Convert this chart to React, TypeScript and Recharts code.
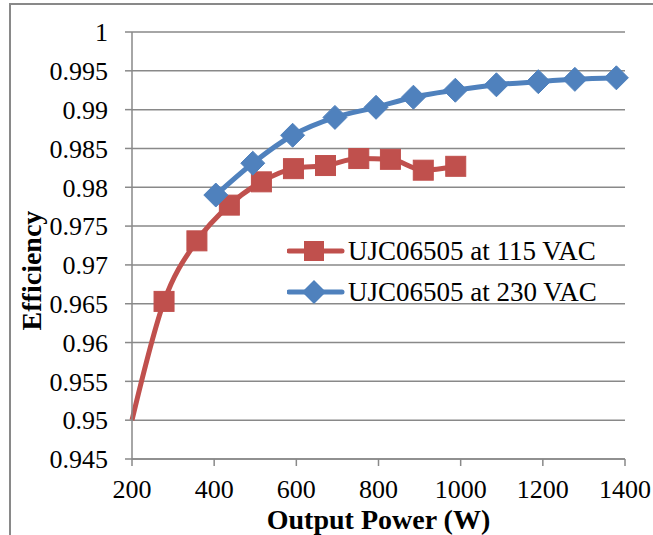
import { LineChart, Line, XAxis, YAxis, CartesianGrid, Legend, Label } from 'recharts'

const power115 = [200, 278, 358, 437, 515, 593, 671, 752, 829, 909, 988]
const eff115 = [0.95, 0.9653, 0.9731, 0.9777, 0.9807, 0.9824, 0.9828, 0.9837, 0.9836, 0.9822, 0.9827]
const power230 = [404, 494, 591, 694, 794, 885, 987, 1087, 1189, 1278, 1379]
const eff230 = [0.979, 0.9831, 0.9867, 0.989, 0.9903, 0.9916, 0.9925, 0.9932, 0.9936, 0.9939, 0.9941]

const xTicks = [200, 400, 600, 800, 1000, 1200, 1400]
const yTicks = [0.945, 0.95, 0.955, 0.96, 0.965, 0.97, 0.975, 0.98, 0.985, 0.99, 0.995, 1]

const RED = '#C0504D'
const BLUE = '#4F81BD'
const GRID = '#898989'
const FONT = '"Liberation Serif", "Times New Roman", serif'

const data115 = power115.map((p, i) => ({ p, e: eff115[i] }))
const data230 = power230.map((p, i) => ({ p, e: eff230[i] }))

const fmtY = (v: number) => String(Number(v.toFixed(3)))

const SquareDot = (props: any) => {
  const { cx, cy, index } = props
  // first point sits on the axis in the original without a marker
  if (index === 0 || cx == null) return <g key={`s${index}`} />
  return <rect key={`s${index}`} x={cx - 10} y={cy - 10} width={20} height={20} fill={RED} stroke={RED} />
}

const DiamondDot = (props: any) => {
  const { cx, cy, index } = props
  if (cx == null) return <g key={`d${index}`} />
  const r = 12
  return (
    <polygon
      key={`d${index}`}
      points={`${cx},${cy - r} ${cx + r},${cy} ${cx},${cy + r} ${cx - r},${cy}`}
      fill={BLUE}
      stroke={BLUE}
    />
  )
}

const legendRows = [
  { name: 'UJC06505 at 115 VAC', color: RED, shape: 'square' },
  { name: 'UJC06505 at 230 VAC', color: BLUE, shape: 'diamond' },
]

function LegendBox() {
  return (
    <div style={{ fontFamily: FONT, fontSize: 27, color: '#000' }}>
      {legendRows.map((r) => (
        <div key={r.name} style={{ display: 'flex', alignItems: 'center', height: 41 }}>
          <svg width={61} height={30} style={{ display: 'block' }}>
            <line x1={2} y1={15} x2={55} y2={15} stroke={r.color} strokeWidth={5} strokeLinecap="round" />
            {r.shape === 'square' ? (
              <rect x={17} y={5} width={20} height={20} fill={r.color} />
            ) : (
              <polygon points="27,3 39,15 27,27 15,15" fill={r.color} />
            )}
          </svg>
          <span style={{ whiteSpace: 'nowrap', lineHeight: '30px' }}>{r.name}</span>
        </div>
      ))}
    </div>
  )
}

export default function App() {
  return (
    <div style={{ position: 'absolute', left: 0, top: 0, width: 653, height: 535, overflow: 'hidden', background: '#fff' }}>
      <div
        style={{
          position: 'absolute',
          left: 9,
          top: 3,
          width: 680,
          height: 580,
          border: `2px solid ${GRID}`,
        }}
      />
      <div style={{ position: 'absolute', left: 0, top: 0 }}>
        <LineChart width={653} height={535} margin={{ top: 32, right: 28, bottom: 0, left: 10 }}>
          <CartesianGrid vertical={false} stroke={GRID} strokeWidth={1.5} />
          <XAxis
            type="number"
            dataKey="p"
            domain={[200, 1400]}
            ticks={xTicks}
            interval={0}
            height={76}
            stroke={GRID}
            strokeWidth={1.5}
            tickSize={7}
            tickMargin={14}
            tick={{ fill: '#000', fontSize: 26, fontFamily: FONT }}
          >
            <Label
              value="Output Power (W)"
              position="insideBottom"
              offset={6}
              style={{ fill: '#000', fontSize: 28, fontWeight: 'bold', fontFamily: FONT }}
            />
          </XAxis>
          <YAxis
            type="number"
            domain={[0.945, 1]}
            ticks={yTicks}
            interval={0}
            width={122}
            stroke={GRID}
            strokeWidth={1.5}
            tickSize={7}
            tickMargin={17}
            tickFormatter={fmtY}
            tick={{ fill: '#000', fontSize: 26, fontFamily: FONT }}
          >
            <Label
              content={(props: any) => {
                const vb = props.viewBox || {}
                const x = (vb.x ?? 10) + 21
                const y = (vb.y ?? 32) + (vb.height ?? 427) / 2 + 25
                return (
                  <text
                    x={x}
                    y={y}
                    transform={`rotate(-90, ${x}, ${y})`}
                    textAnchor="middle"
                    dominantBaseline="central"
                    style={{ fill: '#000', fontSize: 28, fontWeight: 'bold', fontFamily: FONT }}
                  >
                    Efficiency
                  </text>
                )
              }}
            />
          </YAxis>
          <Legend
            layout="vertical"
            align="center"
            verticalAlign="middle"
            content={() => <LegendBox />}
            wrapperStyle={{ left: 287, top: 230, width: 350, height: 82 }}
          />
          <Line
            data={data115}
            dataKey="e"
            name="UJC06505 at 115 VAC"
            type="monotone"
            stroke={RED}
            strokeWidth={5}
            dot={SquareDot}
            activeDot={false}
            isAnimationActive={false}
          />
          <Line
            data={data230}
            dataKey="e"
            name="UJC06505 at 230 VAC"
            type="monotone"
            stroke={BLUE}
            strokeWidth={5}
            dot={DiamondDot}
            activeDot={false}
            isAnimationActive={false}
          />
        </LineChart>
      </div>
    </div>
  )
}
